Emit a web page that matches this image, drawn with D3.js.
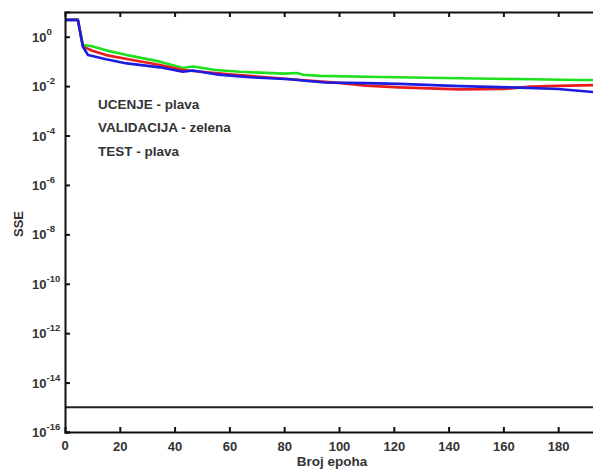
<!DOCTYPE html>
<html><head><meta charset="utf-8">
<script src="https://cdn.jsdelivr.net/npm/d3@7"></script>
<style>body{margin:0;background:#fff}svg{display:block}text{font-family:"Liberation Sans",Arial,sans-serif;font-weight:bold}</style>
</head><body><div id="c"></div>
<script>
// ---- data ----
const xTicks = [20,40,60,80,100,120,140,160,180];
const xTickLabels = ["20","40","60","80","100","120","140","160","180"];
const yTickExps = [0,-2,-4,-6,-8,-10,-12,-14,-16];
const goalValue = 1e-15;

const blueEpochs = [0,4.7,6.5,8.4,15,22.6,34.7,43,46.7,55,67.5,82,87.6,95,110,122,144,166,180,192.7];
const blueValues = [4.8,4.8,0.40,0.18,0.122,0.083,0.0575,0.038,0.043,0.030,0.0229,0.019,0.0166,0.0141,0.0132,0.0123,0.0100,0.0087,0.0076,0.0058];

const greenEpochs = [0,4.7,6.5,7,10.2,15,22.6,34.7,43,46.7,55,63.9,80,84.7,87,93,115,144,170,187,192.7];
const greenValues = [4.8,4.8,0.50,0.46,0.40,0.28,0.18,0.098,0.054,0.062,0.045,0.038,0.032,0.034,0.029,0.026,0.0234,0.0209,0.019,0.0178,0.0178];

const redEpochs = [0,4.7,6.5,7,10,15,22.6,34.7,43,46.7,60,86,100,110,122,144,160,170,180,192.7];
const redValues = [4.8,4.8,0.42,0.38,0.27,0.18,0.126,0.071,0.045,0.041,0.030,0.0178,0.0135,0.0105,0.0089,0.0074,0.0076,0.0095,0.0102,0.011];

const notes = ["UCENJE - plava","VALIDACIJA - zelena","TEST - plava"];

// ---- layout ----
const W=593,H=469;
const svg=d3.select("#c").append("svg").attr("width",W).attr("height",H);
const x=d3.scaleLinear().domain([0,200]).range([65,613]);
const y=d3.scaleLog().domain([1e-16,10]).range([432,12]);

svg.append("clipPath").attr("id","clip").append("rect")
  .attr("x",65).attr("y",12).attr("width",W-65).attr("height",420);

const plot=svg.append("g").attr("clip-path","url(#clip)");
const line=d3.line().x(d=>x(d[0])).y(d=>y(d[1]));

plot.append("line").attr("x1",x(0)).attr("x2",x(200)).attr("y1",y(goalValue)).attr("y2",y(goalValue))
  .attr("stroke","#222").attr("stroke-width",2);

const series=[
  {e:greenEpochs,v:greenValues,c:"#1ee01e"},
  {e:redEpochs,v:redValues,c:"#e81c1c"},
  {e:blueEpochs,v:blueValues,c:"#1c1ce0"}
];
series.forEach(s=>{
  plot.append("path").datum(s.e.map((e,i)=>[e,s.v[i]]))
   .attr("d",line).attr("fill","none").attr("stroke",s.c).attr("stroke-width",2.6)
   .attr("stroke-linejoin","round");
});

// axes
const gBottom=svg.append("g").attr("transform","translate(0,432)")
  .call(d3.axisBottom(x).tickValues(xTicks).tickSize(-5).tickFormat((d,i)=>xTickLabels[i]).tickPadding(10));
const gTop=svg.append("g").attr("transform","translate(0,12)")
  .call(d3.axisTop(x).tickValues(xTicks).tickSize(-5).tickFormat(""));
const gLeft=svg.append("g").attr("transform","translate(65,0)")
  .call(d3.axisLeft(y).tickValues(yTickExps.map(e=>Math.pow(10,e))).tickSize(-5).tickFormat(""));
[gBottom,gTop,gLeft].forEach(g=>{
  g.select(".domain").attr("stroke","#111").attr("stroke-width",2);
  g.selectAll(".tick line").attr("stroke","#111").attr("stroke-width",2);
});
gBottom.selectAll(".tick text").attr("font-size",13).attr("fill","#333").attr("font-family","'Liberation Sans',Arial,sans-serif").attr("font-weight","bold");
svg.append("text").attr("x",x(0)).attr("y",450).attr("text-anchor","middle")
  .attr("font-size",13).attr("fill","#333").text("0");

// y labels 10^n
yTickExps.forEach(e=>{
  const t=svg.append("text").attr("x",32).attr("y",y(Math.pow(10,e))+5)
    .attr("font-size",13).attr("fill","#333");
  t.append("tspan").text("10");
  t.append("tspan").attr("dy",-7).attr("font-size",9.5).text(String(e));
});

svg.append("text").attr("transform","translate(23,224) rotate(-90)")
  .attr("text-anchor","middle").attr("font-size",13).attr("fill","#333").text("SSE");
svg.append("text").attr("x",332).attr("y",466).attr("text-anchor","middle")
  .attr("font-size",13.5).attr("fill","#333").text("Broj epoha");

const noteY=[108.5,132,155.5];
notes.forEach((n,i)=>{
  svg.append("text").attr("x",98).attr("y",noteY[i]).attr("font-size",13.5)
    .attr("fill","#333").text(n);
});
</script></body></html>
